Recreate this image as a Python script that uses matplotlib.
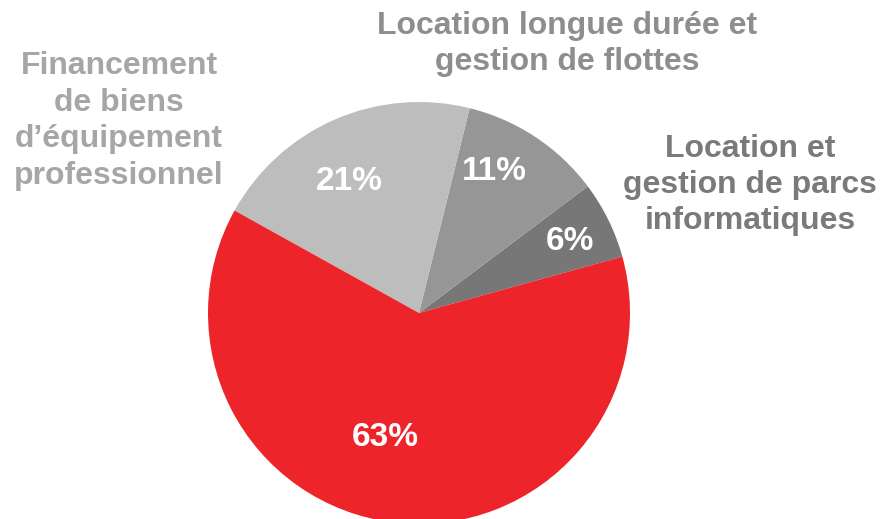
import matplotlib.pyplot as plt

# data
shares = [6, 11, 21, 63]
pct_labels = ['6%', '11%', '21%', '63%']
slice_colors = ['#777777', '#969696', '#BDBDBD', '#EE242B']
categories = [
    'Location et\ngestion de parcs\ninformatiques',
    'Location longue durée et\ngestion de flottes',
    'Financement\nde biens\nd\u2019équipement\nprofessionnel',
]

W, H = 881, 519
fig = plt.figure(figsize=(W / 100, H / 100), dpi=100)
ax = fig.add_axes([0, 0, 1, 1])

cx, cy, r = 419, 313, 211
# y axis is inverted, so counterclockwise in data is clockwise on screen
wedges, _ = ax.pie(shares, colors=slice_colors, startangle=-15.5, counterclock=False,
                   center=(cx, cy), radius=r, frame=True,
                   wedgeprops=dict(linewidth=0))
ax.set_xlim(0, W)
ax.set_ylim(H, 0)
ax.set_aspect('equal')
ax.axis('off')

font = 'Liberation Sans'
pct_pos = [(570, 241), (494, 172), (349, 181), (385, 437)]
for (x, y), t in zip(pct_pos, pct_labels):
    ax.text(x, y, t, ha='center', va='center', color='white', fontsize=24,
            fontweight='bold', family=font)

cat_pos = [(750, 185), (567, 44), (119, 121)]
cat_colors = ['#7A7A7A', '#8E8E8E', '#A6A6A6']
for (x, y), t, c in zip(cat_pos, categories, cat_colors):
    ax.text(x, y, t, ha='center', va='center', color=c, fontsize=23,
            fontweight='bold', family=font, linespacing=1.28)

fig.savefig('out.png', dpi=100)
